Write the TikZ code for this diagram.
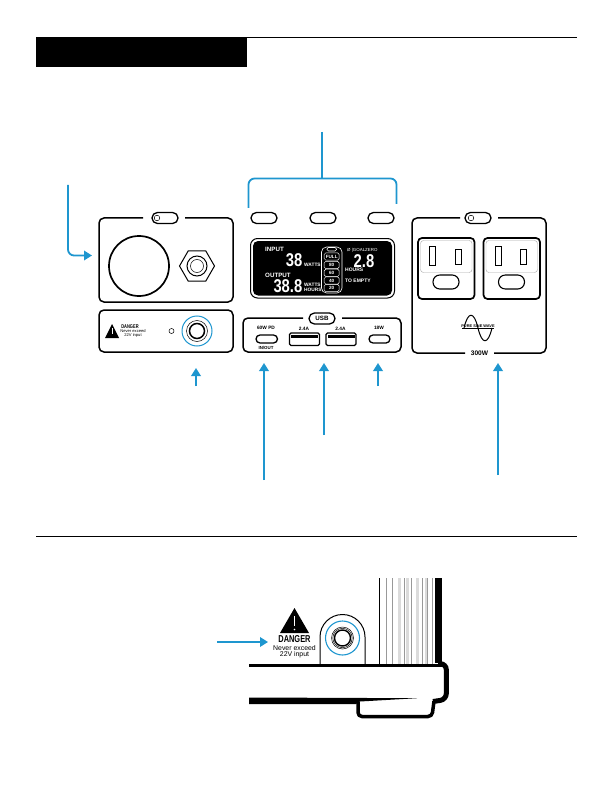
\documentclass[tikz,border=0pt]{standalone}
\usepackage{fontspec}
\setmainfont{Liberation Sans}
\newfontfamily\segfont[FakeStretch=0.8]{Liberation Sans}
\newfontfamily\narrowfont[FakeStretch=0.74]{Liberation Sans}
\usetikzlibrary{arrows.meta,shapes.geometric}
\definecolor{cyanblue}{HTML}{1E96CF}
\newcommand{\fs}[1]{\fontsize{#1}{#1}\selectfont}
\tikzset{
 panel/.style={draw=black,line width=1.5pt,rounded corners=5pt},
 pill/.style={draw=black,line width=1.3pt,fill=white,rounded corners=5.4pt},
 thinring/.style={draw=black,line width=.5pt},
 conn/.style={draw=cyanblue,line width=1.8pt,-{Triangle[length=8pt,width=9.5pt]}},
 bracket/.style={draw=cyanblue,line width=1.8pt},
 lcd/.style={text=white,font=\bfseries\fs{4.8},inner sep=0pt},
 seg/.style={text=white,font=\segfont\bfseries\fs{18.5},inner sep=0pt,text height=13.2pt,text depth=0pt},
 lab/.style={font=\bfseries\fs{4.8},inner sep=0pt},
 usbc/.style={draw=black,line width=1.3pt,rounded corners=4pt},
 usba/.style={draw=black,line width=1.3pt,rounded corners=1.5pt},
 battcell/.style={draw=white,line width=.5pt,rounded corners=1.5pt,text=white,font=\bfseries\fs{4.6},minimum width=15pt,minimum height=7.2pt,inner sep=0pt},
}
\begin{document}
\begin{tikzpicture}[x=1pt,y=-1pt]
\useasboundingbox (0,0) rectangle (613,794);
% header
\fill[black] (36,37) rectangle (247,67);
\draw[line width=1pt] (247,37.5) -- (577,37.5);
\draw[line width=1pt] (36,536.5) -- (577,536.5);

% LEFT PANEL top
\draw[panel] (143,218) -- (99,218) -- (99,302) -- (233,302) -- (233,218) -- (185,218);
\draw[pill] (152,212.5) rectangle (178,223.5);
\draw[thinring] (157,218) circle (2.8);
\draw[line width=1.7pt] (139,266) circle (30);
\node[draw=black,line width=1pt,regular polygon,regular polygon sides=6,minimum size=35pt,inner sep=0pt] (hexnut) at (197,266) {};
\draw[line width=1pt] (197,266) circle (10);
\draw[thinring] (197,266) circle (6.5);
% left panel bottom
\draw[panel] (99,310) rectangle (233,352);
\fill[black] (112,324) -- (105,338) -- (119,338) -- cycle;
\draw[white,line width=.8pt] (112,328) -- (112,334);
\node[inner sep=0pt,font=\narrowfont\bfseries\fs{5.4}] (dangerA) at (130,326.5) {DANGER};
\node[inner sep=0pt,font=\fs{4.1}] (dangerB) at (133,331) {Never exceed};
\node[inner sep=0pt,font=\fs{4.1}] (dangerC) at (133,335) {22V input};
\draw[thinring] (171.5,331) circle (2.5);
\draw[cyanblue,line width=1pt] (197,331) circle (15);
\draw[thinring] (197,331) circle (10.5);
\draw[line width=1.5pt] (197,331) circle (7.5);

% MIDDLE
\draw[bracket] (248.5,208) -- (248.5,186) [rounded corners=6pt] -- (248.5,178.5) -- (396.5,178.5) -- (396.5,204);
\coordinate (stemtop) at (322,132);
\coordinate (stembot) at (322,178.5);
\draw[bracket] (stemtop) -- (stembot);
\draw[pill] (251,212.5) rectangle (277,223.5);
\draw[pill] (310,212.5) rectangle (336,223.5);
\draw[pill] (368,212.5) rectangle (394,223.5);
% display
\draw[black,line width=1pt,rounded corners=7pt] (250.5,238.5) rectangle (394.5,298);
\fill[black,rounded corners=5pt] (253,241) rectangle (392,295.5);
\node[lcd,anchor=west,font=\bfseries\fs{6.2}] (inlbl) at (265,249.5) {INPUT};
\node[seg,anchor=east] (in38) at (302.5,260.2) {38};
\node[lcd,anchor=west] (inw) at (304,265) {WATTS};
\node[lcd,anchor=west,font=\bfseries\fs{6.2}] (outlbl) at (265,275) {OUTPUT};
\node[seg,anchor=east] (out388) at (302.5,285.7) {38.8};
\node[lcd,anchor=west] (outw) at (304,284.5) {WATTS};
\node[lcd,anchor=west] (outh) at (304,290) {HOURS};
% battery
\draw[white,line width=.6pt,rounded corners=5pt] (321.5,247) rectangle (342,293);
\draw[white,line width=.6pt,rounded corners=1.5pt] (327,247.5) rectangle (336.5,251);
\node[battcell] (c1) at (331.7,256.5) {FULL};
\node[battcell] (c2) at (331.7,265) {80};
\node[battcell] (c3) at (331.7,272.8) {60};
\node[battcell] (c4) at (331.7,280.5) {40};
\node[battcell] (c5) at (331.7,288) {20};
\node[lcd,anchor=west,font=\fs{4.4}] (gz) at (347,250) {\O\ |GOALZERO};
\node[seg,anchor=center] (t28) at (364,260.5) {2.8};
\node[lcd,anchor=west,font=\bfseries\fs{5}] (hours) at (345,270) {HOURS};
\node[lcd,anchor=west,font=\bfseries\fs{5}] (empty) at (345,281) {TO EMPTY};

% USB panel
\draw[panel] (303,318) -- (243,318) -- (243,352) -- (401,352) -- (401,318) -- (342,318);
\node[pill,rectangle,minimum width=26pt,minimum height=11pt,inner sep=0pt,font=\bfseries\fs{6.2},rounded corners=5.4pt] (usb) at (322,318.5) {USB};
\node[lab] (pd) at (266,328) {60W PD};
\draw[usbc] (256,335) rectangle (277.5,343);
\node[lab,font=\bfseries\fs{4.4}] (inout) at (266,347.5) {IN/OUT};
\node[lab] (a1) at (304,329) {2.4A};
\draw[usba] (289.5,333) rectangle (319.5,345.5);
\fill[black] (291,334.5) rectangle (318,337.5);
\node[lab] (a2) at (340.5,329) {2.4A};
\draw[usba] (326,333) rectangle (356,345.5);
\fill[black] (327.5,334.5) rectangle (354.5,337.5);
\node[lab] (w18) at (379,328) {18W};
\draw[usbc] (369,335) rectangle (390,343);

% RIGHT panel
\draw[panel] (460,218) -- (412,218) -- (412,353) -- (465,353);
\draw[panel] (494,353) -- (546,353) -- (546,218) -- (498,218);
\draw[pill] (465,212.5) rectangle (491,223.5);
\draw[thinring] (471,218) circle (2.8);
\node[inner sep=0pt,font=\bfseries\fs{6.6}] (w300) at (479.5,353) {300W};
\foreach \dx in {0,65.5}{
 \begin{scope}[xshift=\dx]
 \draw[line width=1.7pt,rounded corners=4pt] (418,238) rectangle (474.5,299);
 \draw[draw=gray!70,line width=.4pt,rounded corners=3pt] (420.5,240.5) -- (420.5,272.5) -- (472,272.5) -- (472,240.5) -- cycle;
 \draw[line width=1pt] (429.5,246.5) rectangle (435.5,265);
 \draw[line width=1pt] (455,249) rectangle (461,264);
 \draw[line width=1.1pt,rounded corners=6.8pt] (433,275) rectangle (459,289);
 \end{scope}
}
% sine
\draw[line width=1pt] (464,328) .. controls (468,311) and (474,311) .. (478,328) .. controls (482,345) and (488,345) .. (492,328);
\node[inner sep=0pt,font=\bfseries\fs{3.9}] (sine) at (478,325.8) {PURE SINE WAVE};
\draw[line width=.5pt] (462,328.5) -- (494,328.5);

% arrows top part
\coordinate (a0s) at (68,185);
\coordinate (a0t) at (92,255.5);
\draw[conn,rounded corners=6pt] (a0s) -- (68,255.5) -- (a0t);
\coordinate (b1s) at (196,386); \coordinate (b1t) at (196,368);
\draw[conn] (b1s) -- (b1t);
\coordinate (b2s) at (264,480); \coordinate (b2t) at (264,363);
\draw[conn] (b2s) -- (b2t);
\coordinate (b3s) at (324,435); \coordinate (b3t) at (324,363);
\draw[conn] (b3s) -- (b3t);
\coordinate (b4s) at (378,386); \coordinate (b4t) at (378,363);
\draw[conn] (b4s) -- (b4t);
\coordinate (b5s) at (498,475); \coordinate (b5t) at (498,363);
\draw[conn] (b5s) -- (b5t);

% DETAIL
\coordinate (b6s) at (217,642); \coordinate (b6t) at (268,642);
\draw[conn] (b6s) -- (b6t);
\fill[black] (294.5,608) -- (280,633) -- (309,633) -- cycle;
\draw[white,line width=1.3pt] (294.5,616) -- (294.5,626);
\fill[white] (294.5,629.5) circle (.8);
\node[inner sep=0pt,font=\narrowfont\bfseries\fs{10}] (dangerD) at (294.5,639) {DANGER};
\node[inner sep=0pt,font=\fs{6.9}] (dangerE) at (294.5,648) {Never exceed};
\node[inner sep=0pt,font=\fs{6.9}] (dangerF) at (294.5,655) {22V input};
% mount
\draw[line width=1pt] (320,665) -- (320,637) arc[start angle=180,end angle=0,x radius=22.5,y radius=-22.5] -- (365,665);
\draw[cyanblue,line width=1.1pt] (342.5,638) circle (17);
\draw[thinring] (342.5,638) circle (11);
\draw[thinring] (342.5,638) circle (9.7);
\draw[line width=1.4pt] (342.5,638) circle (8);
% stripes
\foreach \x/\w in {398/2.5,406/3,416/2.5,425/2}{
 \fill[black!14] (\x,578) rectangle (\x+\w,664);
}
\foreach \x in {386,392,404,411,422,427,432}{\draw[black!40,line width=.5pt] (\x,578) -- (\x,664);}
\draw[line width=1.3pt] (379.5,578) -- (379.5,665);
\fill[black] (434.5,578) rectangle (442,663);
% base
\fill[black] (249,663.5) rectangle (442,667);
\draw[line width=5pt,rounded corners=6pt] (438,663.7) -- (446.3,663.7) -- (446.3,699.5) -- (433,701.5);
\fill[black] (249,697.5) -- (417,698.2) -- (360,701.5) -- (356,704) -- (249,704) -- cycle;
\draw[line width=3.5pt,rounded corners=4pt] (358,702) -- (358,716.5) -- (432,716.5) -- (434,701);
\end{tikzpicture}
\end{document}
